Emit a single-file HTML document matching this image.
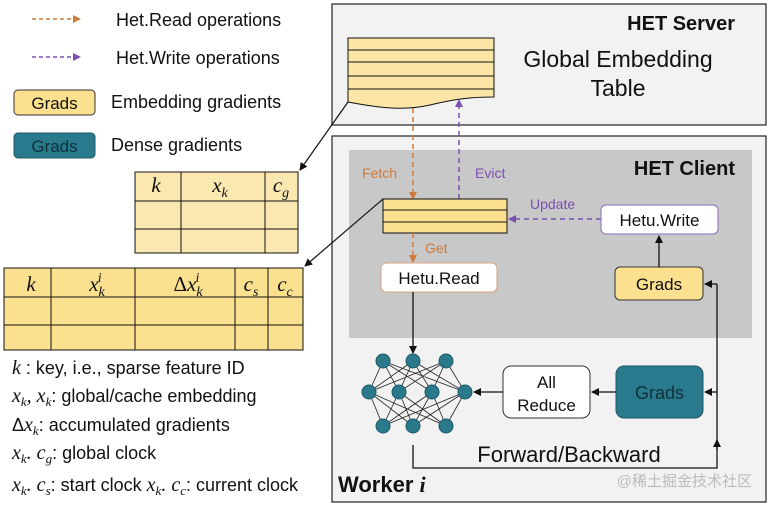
<!DOCTYPE html>
<html><head><meta charset="utf-8"><style>
body{margin:0;background:#fff;}
svg{display:block;font-family:"Liberation Sans","Noto Sans CJK SC",sans-serif;}
.m{font-family:"Liberation Serif",serif;font-style:italic;}
</style></head><body>
<svg width="769" height="505" viewBox="0 0 769 505">
<defs>
<marker id="ak" markerWidth="8" markerHeight="8" refX="7" refY="4" orient="auto" markerUnits="userSpaceOnUse"><path d="M0,0 L8,4 L0,8 z" fill="#111"/></marker>
<marker id="ao" markerWidth="8" markerHeight="8" refX="7" refY="4" orient="auto" markerUnits="userSpaceOnUse"><path d="M0,0 L8,4 L0,8 z" fill="#d07a3a"/></marker>
<marker id="ap" markerWidth="8" markerHeight="8" refX="7" refY="4" orient="auto" markerUnits="userSpaceOnUse"><path d="M0,0 L8,4 L0,8 z" fill="#7b4fb0"/></marker>
</defs>
<!-- Server -->
<rect x="332" y="4" width="434" height="121" fill="#f2f2f2" stroke="#222" stroke-width="1.2"/>
<text x="735" y="30" text-anchor="end" font-size="20" font-weight="bold" fill="#111">HET Server</text>
<text x="618" y="67" text-anchor="middle" font-size="23" fill="#111">Global Embedding</text>
<text x="618" y="96" text-anchor="middle" font-size="23" fill="#111">Table</text>
<path d="M348,38 H494 V97 C470,97 455,99 430,105 C400,112 370,106 348,102 Z" fill="#fbe6a8" stroke="#111" stroke-width="1"/>
<g stroke="#111" stroke-width="1"><line x1="348" y1="50" x2="494" y2="50"/><line x1="348" y1="62" x2="494" y2="62"/><line x1="348" y1="76" x2="494" y2="76"/><line x1="348" y1="89" x2="494" y2="89"/></g>
<!-- Worker -->
<rect x="332" y="136" width="434" height="366" fill="#f2f2f2" stroke="#222" stroke-width="1.2"/>
<rect x="349" y="150" width="403" height="188" fill="#c8c8c8"/>
<text x="735" y="175" text-anchor="end" font-size="20" font-weight="bold" fill="#111">HET Client</text>
<line x1="413" y1="108" x2="413" y2="199" stroke="#d07a3a" stroke-width="1.5" stroke-dasharray="5,4" marker-end="url(#ao)"/>
<line x1="459" y1="199" x2="459" y2="100" stroke="#7b4fb0" stroke-width="1.5" stroke-dasharray="5,4" marker-end="url(#ap)"/>
<text x="362" y="178" font-size="14" fill="#d07a3a">Fetch</text>
<text x="475" y="178" font-size="14" fill="#7b4fb0">Evict</text>
<rect x="383" y="199" width="124" height="34" fill="#fbe08f" stroke="#111"/>
<line x1="383" y1="210" x2="507" y2="210" stroke="#111"/><line x1="383" y1="222" x2="507" y2="222" stroke="#111"/>
<line x1="601" y1="219" x2="509" y2="219" stroke="#7b4fb0" stroke-width="1.5" stroke-dasharray="5,4" marker-end="url(#ap)"/>
<text x="530" y="209" font-size="14" fill="#7b4fb0">Update</text>
<rect x="601" y="205" width="117" height="29" rx="5" fill="#fff" stroke="#8a6cc0"/>
<text x="659.5" y="226" text-anchor="middle" font-size="17" fill="#111">Hetu.Write</text>
<rect x="615" y="267" width="88" height="33" rx="5" fill="#fbe08f" stroke="#333"/>
<text x="659" y="290" text-anchor="middle" font-size="17" fill="#111">Grads</text>
<line x1="659" y1="267" x2="659" y2="236" stroke="#111" stroke-width="1.3" marker-end="url(#ak)"/>
<line x1="413" y1="233" x2="413" y2="262" stroke="#d07a3a" stroke-width="1.5" stroke-dasharray="5,4" marker-end="url(#ao)"/>
<text x="425" y="253" font-size="14" fill="#d07a3a">Get</text>
<rect x="381" y="263" width="116" height="29" rx="5" fill="#fff" stroke="#d9a080"/>
<text x="439" y="284" text-anchor="middle" font-size="17" fill="#111">Hetu.Read</text>
<line x1="413" y1="292" x2="413" y2="353" stroke="#111" stroke-width="1.3" marker-end="url(#ak)"/>
<!-- NN -->
<g stroke="#222" stroke-width="0.8">
<path d="M383,361L369,392M383,361L399,392M383,361L432,392M383,361L465,392M413,361L369,392M413,361L399,392M413,361L432,392M413,361L465,392M446,361L369,392M446,361L399,392M446,361L432,392M446,361L465,392M383,426L369,392M383,426L399,392M383,426L432,392M383,426L465,392M413,426L369,392M413,426L399,392M413,426L432,392M413,426L465,392M446,426L369,392M446,426L399,392M446,426L432,392M446,426L465,392"/>
</g>
<g fill="#2a7a8c" stroke="#1d5866">
<circle cx="383" cy="361" r="7"/><circle cx="413" cy="361" r="7"/><circle cx="446" cy="361" r="7"/>
<circle cx="369" cy="392" r="7"/><circle cx="399" cy="392" r="7"/><circle cx="432" cy="392" r="7"/><circle cx="465" cy="392" r="7"/>
<circle cx="383" cy="426" r="7"/><circle cx="413" cy="426" r="7"/><circle cx="446" cy="426" r="7"/>
</g>
<rect x="503" y="366" width="87" height="52" rx="8" fill="#fff" stroke="#333"/>
<text x="546.5" y="388" text-anchor="middle" font-size="17" fill="#111">All</text>
<text x="546.5" y="411" text-anchor="middle" font-size="17" fill="#111">Reduce</text>
<rect x="616" y="366" width="87" height="52" rx="8" fill="#2a7a8e" stroke="#1d5866"/>
<text x="659.5" y="399" text-anchor="middle" font-size="18" fill="#10303a">Grads</text>
<line x1="616" y1="392" x2="592" y2="392" stroke="#111" stroke-width="1.3" marker-end="url(#ak)"/>
<line x1="503" y1="392" x2="474" y2="392" stroke="#111" stroke-width="1.3" marker-end="url(#ak)"/>
<path d="M413,445 V468 H717 V284" fill="none" stroke="#111" stroke-width="1.3"/>
<line x1="717" y1="450" x2="717" y2="440" stroke="#111" stroke-width="1.3" marker-end="url(#ak)"/>
<line x1="717" y1="284" x2="705" y2="284" stroke="#111" stroke-width="1.3" marker-end="url(#ak)"/>
<line x1="717" y1="392" x2="705" y2="392" stroke="#111" stroke-width="1.3" marker-end="url(#ak)"/>
<text x="569" y="462" text-anchor="middle" font-size="22" fill="#111">Forward/Backward</text>
<text x="338" y="492" font-size="22" font-weight="bold" fill="#111">Worker <tspan class="m">i</tspan></text>
<text x="752" y="486" text-anchor="end" font-size="15" fill="#bbb">@稀土掘金技术社区</text>
<!-- legend -->
<line x1="32" y1="19" x2="80" y2="19" stroke="#d07a3a" stroke-width="1.5" stroke-dasharray="4,3" marker-end="url(#ao)"/>
<text x="116" y="26" font-size="18" fill="#111">Het.Read operations</text>
<line x1="32" y1="57" x2="80" y2="57" stroke="#7b4fb0" stroke-width="1.5" stroke-dasharray="4,3" marker-end="url(#ap)"/>
<text x="116" y="64" font-size="18" fill="#111">Het.Write operations</text>
<rect x="14" y="90" width="81" height="25" rx="4" fill="#fbe08f" stroke="#333"/>
<text x="54.5" y="109" text-anchor="middle" font-size="17" fill="#111">Grads</text>
<text x="111" y="108" font-size="18" fill="#111">Embedding gradients</text>
<rect x="14" y="133" width="81" height="25" rx="4" fill="#2a7a8e" stroke="#1d5866"/>
<text x="54.5" y="152" text-anchor="middle" font-size="17" fill="#10303a">Grads</text>
<text x="111" y="151" font-size="18" fill="#111">Dense gradients</text>
<!-- tables -->
<line x1="348" y1="102" x2="300" y2="170" stroke="#111" stroke-width="1.2" marker-end="url(#ak)"/>
<line x1="383" y1="199" x2="305" y2="266" stroke="#111" stroke-width="1.2" marker-end="url(#ak)"/>
<rect x="135" y="172" width="163" height="81" fill="#fbe7b0" stroke="#111"/>
<g stroke="#111"><line x1="181" y1="172" x2="181" y2="253"/><line x1="265" y1="172" x2="265" y2="253"/><line x1="135" y1="201" x2="298" y2="201"/><line x1="135" y1="229" x2="298" y2="229"/></g>
<g class="m" font-size="21" fill="#111">
<text x="156" y="192" text-anchor="middle">k</text>
<text x="220" y="192" text-anchor="middle">x<tspan font-size="14" dy="5">k</tspan></text>
<text x="281" y="192" text-anchor="middle">c<tspan font-size="14" dy="5">g</tspan></text>
</g>
<rect x="4" y="268" width="299" height="82" fill="#fbe08f" stroke="#111"/>
<g stroke="#111"><line x1="51" y1="268" x2="51" y2="350"/><line x1="135" y1="268" x2="135" y2="350"/><line x1="235" y1="268" x2="235" y2="350"/><line x1="268" y1="268" x2="268" y2="350"/><line x1="4" y1="297" x2="303" y2="297"/><line x1="4" y1="325" x2="303" y2="325"/></g>
<g class="m" font-size="21" fill="#111">
<text x="31" y="291" text-anchor="middle">k</text>
<text x="97" y="291" text-anchor="middle">x<tspan font-size="14" dy="5">k</tspan><tspan font-size="14" dx="-7" dy="-14">i</tspan></text>
<text x="188" y="291" text-anchor="middle"><tspan font-style="normal">Δ</tspan>x<tspan font-size="14" dy="5">k</tspan><tspan font-size="14" dx="-7" dy="-14">i</tspan></text>
<text x="251" y="291" text-anchor="middle">c<tspan font-size="14" dy="5">s</tspan></text>
<text x="285" y="291" text-anchor="middle">c<tspan font-size="14" dy="5">c</tspan></text>
</g>
<g font-size="18" fill="#111">
<text x="12" y="374"><tspan class="m" font-size="20">k</tspan> : key, i.e., sparse feature ID</text>
<text x="12" y="402"><tspan class="m" font-size="20">x<tspan font-size="13" dy="4">k</tspan><tspan dy="-4">, x</tspan><tspan font-size="13" dy="4">k</tspan></tspan><tspan dy="-4">: global/cache embedding</tspan></text>
<text x="12" y="431">Δ<tspan class="m" font-size="20">x<tspan font-size="13" dy="4">k</tspan></tspan><tspan dy="-4">: accumulated gradients</tspan></text>
<text x="12" y="459"><tspan class="m" font-size="20">x<tspan font-size="13" dy="4">k</tspan><tspan dy="-4">. c</tspan><tspan font-size="13" dy="4">g</tspan></tspan><tspan dy="-4">: global clock</tspan></text>
<text x="12" y="491"><tspan class="m" font-size="20">x<tspan font-size="13" dy="4">k</tspan><tspan dy="-4">. c</tspan><tspan font-size="13" dy="4">s</tspan></tspan><tspan dy="-4">: start clock </tspan><tspan class="m" font-size="20">x<tspan font-size="13" dy="4">k</tspan><tspan dy="-4">. c</tspan><tspan font-size="13" dy="4">c</tspan></tspan><tspan dy="-4">: current clock</tspan></text>
</g>
</svg>
</body></html>
